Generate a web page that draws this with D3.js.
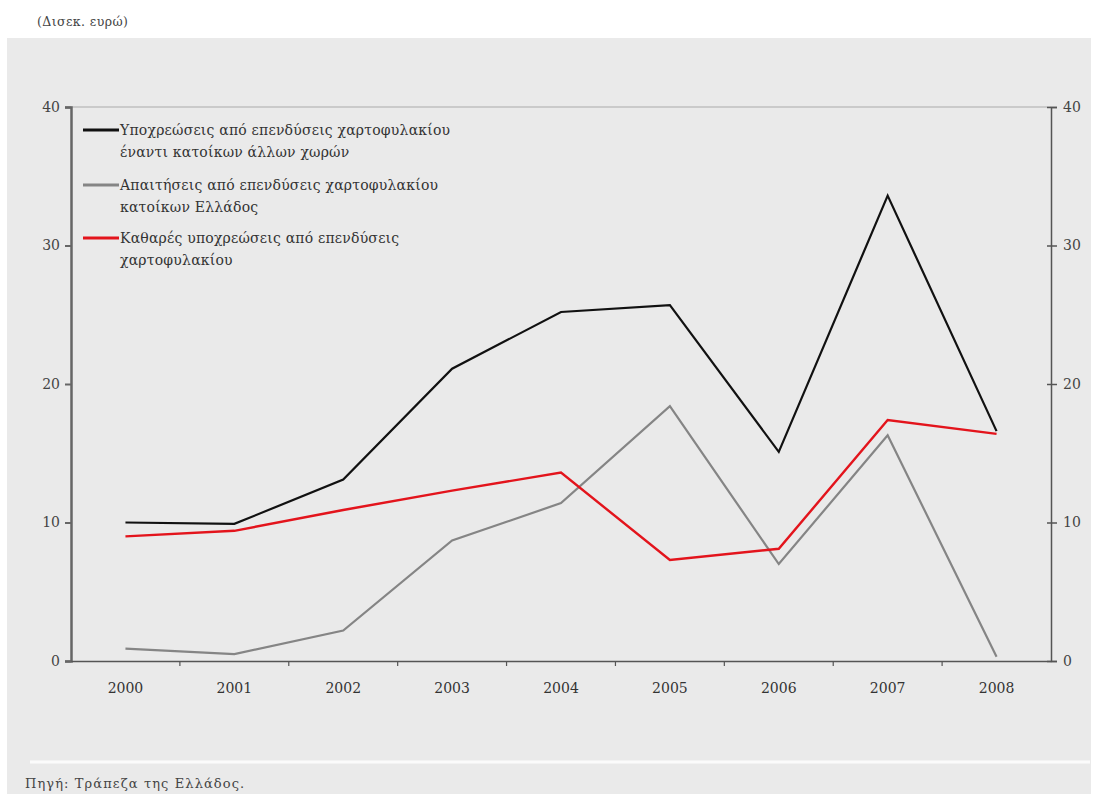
<!DOCTYPE html>
<html>
<head>
<meta charset="utf-8">
<title>Επενδύσεις χαρτοφυλακίου</title>
<script src="https://cdn.jsdelivr.net/npm/d3@7"></script>
<style>
  body { margin: 0; background: #fff; }
  svg text { font-family: "DejaVu Serif", "Liberation Serif", serif; }
</style>
</head>
<body>
<svg id="svg"></svg>
<script>
// data (billion euro)
var years = ["2000", "2001", "2002", "2003", "2004", "2005", "2006", "2007", "2008"];
var liabilities = [10.0, 9.9, 13.1, 21.1, 25.2, 25.7, 15.1, 33.6, 16.6];
var assets = [0.9, 0.5, 2.2, 8.7, 11.4, 18.4, 7.0, 16.3, 0.3];
var netLiabilities = [9.0, 9.4, 10.9, 12.3, 13.6, 7.3, 8.1, 17.4, 16.4];
var yTicks = [0, 10, 20, 30, 40];

var legendLabels = [
  ["Υποχρεώσεις από επενδύσεις χαρτοφυλακίου", "έναντι κατοίκων άλλων χωρών"],
  ["Απαιτήσεις από επενδύσεις χαρτοφυλακίου", "κατοίκων Ελλάδος"],
  ["Καθαρές υποχρεώσεις από επενδύσεις", "χαρτοφυλακίου"]
];

var width = 1098, height = 794;
var _m = {left: 71, right: 1051, top: 107, bottom: 661};

var svg = d3.select("#svg")
    .attr("width", width)
    .attr("height", height);

// grey panel
svg.append("rect")
    .attr("x", 7).attr("y", 38)
    .attr("width", 1084).attr("height", height - 38)
    .attr("fill", "#eaeaea");

svg.append("line")
    .attr("x1", 30).attr("x2", 1090)
    .attr("y1", 762).attr("y2", 762)
    .attr("stroke", "#fbfbfb").attr("stroke-width", 3);

svg.append("text")
    .attr("x", 37).attr("y", 26)
    .attr("font-size", 12.5).attr("fill", "#444")
    .attr("letter-spacing", 0.4)
    .text("(Δισεκ. ευρώ)");

svg.append("text")
    .attr("x", 25).attr("y", 788)
    .attr("font-size", 13).attr("fill", "#444")
    .attr("letter-spacing", 1.1)
    .text("Πηγή: Τράπεζα της Ελλάδος.");

var x = d3.scaleBand().domain(years).range([_m.left, _m.right]).padding(0);
var y = d3.scaleLinear().domain([0, 40]).range([_m.bottom, _m.top]);

// top border
svg.append("line")
    .attr("x1", _m.left).attr("x2", _m.right)
    .attr("y1", y(40)).attr("y2", y(40))
    .attr("stroke", "#aaa").attr("stroke-width", 1);

// left axis
var axisL = svg.append("g")
    .attr("transform", "translate(" + _m.left + ",0)")
    .call(d3.axisLeft(y).tickValues(yTicks).tickSize(6).tickPadding(5));
axisL.select(".domain").attr("stroke", "#666").attr("stroke-width", 2.5);
axisL.selectAll(".tick line").attr("stroke", "#666").attr("stroke-width", 2);
axisL.selectAll(".tick text")
    .attr("font-family", "DejaVu Serif, serif")
    .attr("font-size", 14).attr("fill", "#444");

// right axis
var axisR = svg.append("g")
    .attr("transform", "translate(" + _m.right + ",0)")
    .call(d3.axisRight(y).tickValues(yTicks).tickSize(6).tickPadding(6));
axisR.select(".domain").attr("stroke", "#555").attr("stroke-width", 1.5);
axisR.selectAll(".tick line").attr("x1", -4).attr("stroke", "#555").attr("stroke-width", 1.5);
axisR.selectAll(".tick text")
    .attr("font-family", "DejaVu Serif, serif")
    .attr("font-size", 14).attr("fill", "#444");

// bottom axis: labels centered, ticks at band edges
var axisB = svg.append("g")
    .attr("transform", "translate(0," + _m.bottom + ")")
    .call(d3.axisBottom(x).tickSize(0).tickPadding(22));
axisB.select(".domain").attr("stroke", "#555").attr("stroke-width", 1.5);
axisB.selectAll(".tick text")
    .attr("font-family", "DejaVu Serif, serif")
    .attr("font-size", 14).attr("fill", "#333");

svg.append("g").selectAll("line")
    .data(years.slice(1))
    .enter().append("line")
    .attr("x1", function(d) { return x(d); })
    .attr("x2", function(d) { return x(d); })
    .attr("y1", _m.bottom).attr("y2", _m.bottom + 5)
    .attr("stroke", "#555").attr("stroke-width", 1.2);

// lines
var series = [
  { values: liabilities, color: "#111111", width: 2.2 },
  { values: assets, color: "#858585", width: 2.2 },
  { values: netLiabilities, color: "#e3141c", width: 2.4 }
];

var line = d3.line()
    .x(function(d, i) { return x(years[i]) + x.bandwidth() / 2; })
    .y(function(d) { return y(d); });

// grey first, then black, red on top
[1, 0, 2].forEach(function(k) {
  svg.append("path")
      .datum(series[k].values)
      .attr("fill", "none")
      .attr("stroke", series[k].color)
      .attr("stroke-width", series[k].width)
      .attr("stroke-linejoin", "miter")
      .attr("d", line);
});

// legend
var legendY = [130, 185, 238];
var legend = svg.append("g");
legendLabels.forEach(function(lbl, i) {
  legend.append("line")
      .attr("x1", 83).attr("x2", 119)
      .attr("y1", legendY[i]).attr("y2", legendY[i])
      .attr("stroke", series[i].color).attr("stroke-width", 3);
  lbl.forEach(function(t, j) {
    legend.append("text")
        .attr("x", 120).attr("y", legendY[i] + 5 + j * 22)
        .attr("font-size", 14).attr("fill", "#333")
        .attr("letter-spacing", 0.2)
        .text(t);
  });
});
</script>
</body>
</html>
